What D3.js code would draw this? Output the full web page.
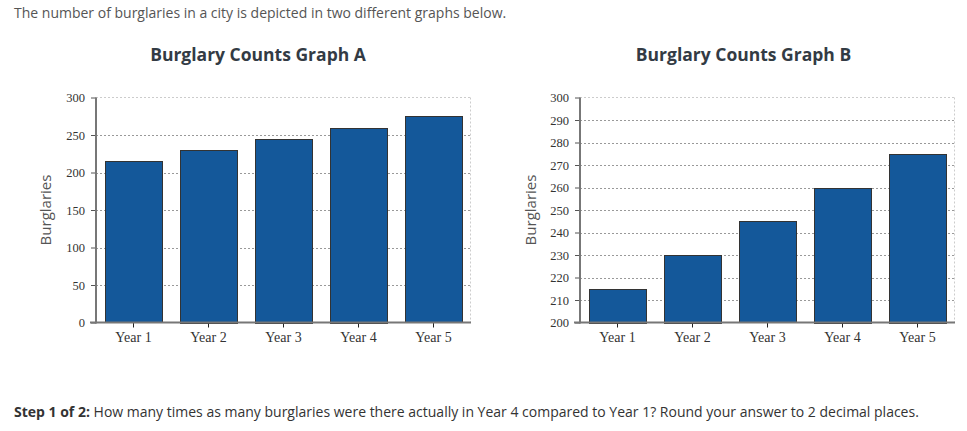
<!DOCTYPE html>
<html><head><meta charset="utf-8">
<script src="https://cdn.jsdelivr.net/npm/d3@7"></script>
<style>
body{margin:0;background:#fff;}
svg{display:block;}
</style></head>
<body>
<svg id="c" width="967" height="431"></svg>
<script>
const categories = ["Year 1","Year 2","Year 3","Year 4","Year 5"];
const burglaries = [215, 230, 245, 260, 275];
const ticksA = [0, 50, 100, 150, 200, 250, 300];
const ticksB = [200, 210, 220, 230, 240, 250, 260, 270, 280, 290, 300];
const titles = ["Burglary Counts Graph A", "Burglary Counts Graph B"];

const svg = d3.select("#c");
const serif = "'Liberation Serif','Times New Roman',serif";
const sans = "'Open Sans',sans-serif";

svg.append("text").attr("x",14).attr("y",18).attr("font-family",sans).attr("font-size",14)
  .attr("fill","#555").text("The number of burglaries in a city is depicted in two different graphs below.");

const foot = svg.append("text").attr("x",14).attr("y",417).attr("font-family",sans).attr("font-size",14).attr("fill","#333");
foot.append("tspan").attr("font-weight","bold").text("Step 1 of 2:");
foot.append("tspan").text(" How many times as many burglaries were there actually in Year 4 compared to Year 1? Round your answer to 2 decimal places.");

function drawChart(cfg){
  const {x0,x1,y0,y1,domain,ticks,title,titleX,labelX} = cfg;
  const g = svg.append("g");
  const x = d3.scaleBand().domain(categories).range([x0,x1]).paddingInner(0.24).paddingOuter(0.12);
  const y = d3.scaleLinear().domain(domain).range([y1,y0]);

  g.append("text").attr("x",titleX).attr("y",61).attr("text-anchor","middle")
    .attr("font-family",sans).attr("font-size",17.5).attr("font-weight","bold").attr("fill","#333b44").text(title);

  g.append("line").attr("x1",x0).attr("x2",x1).attr("y1",y0).attr("y2",y0)
    .attr("stroke","#ccc").attr("stroke-dasharray","2,2");
  g.append("line").attr("x1",x1-0.5).attr("x2",x1-0.5).attr("y1",y0).attr("y2",y1)
    .attr("stroke","#ccc").attr("stroke-dasharray","2,2");

  g.selectAll(".grid").data(ticks.slice(1,-1)).join("line")
    .attr("x1",x0).attr("x2",x1).attr("y1",d=>Math.round(y(d))+0.5).attr("y2",d=>Math.round(y(d))+0.5)
    .attr("stroke","#999").attr("stroke-dasharray","2,2");

  g.selectAll(".bar").data(burglaries).join("rect")
    .attr("x",(d,i)=>Math.round(x(categories[i]))+0.5)
    .attr("width",Math.round(x.bandwidth()))
    .attr("y",d=>Math.round(y(d))+0.5)
    .attr("height",d=>Math.round(y1-y(d)))
    .attr("fill","#14589a").attr("stroke","#333").attr("stroke-width",1);

  const ya = d3.axisLeft(y).tickValues(ticks).tickSize(5).tickPadding(6);
  const yg = g.append("g").attr("transform",`translate(${x0},0)`).call(ya);
  yg.select(".domain").remove();
  yg.selectAll(".tick line").attr("stroke","#555");
  yg.selectAll("text").attr("font-family",serif).attr("font-size",12.5).attr("fill","#333");
  g.append("line").attr("x1",x0).attr("x2",x0).attr("y1",y0).attr("y2",y1+1)
    .attr("stroke","#777").attr("stroke-width",2);

  const xa = d3.axisBottom(x).tickSize(5).tickPadding(5);
  const xg = g.append("g").attr("transform",`translate(0,${y1})`).call(xa);
  xg.select(".domain").remove();
  xg.selectAll(".tick line").attr("stroke","#222");
  xg.selectAll("text").attr("font-family",serif).attr("font-size",14).attr("fill","#333");
  g.append("line").attr("x1",x0-6).attr("x2",x1).attr("y1",y1).attr("y2",y1)
    .attr("stroke","#777").attr("stroke-width",2);

  g.append("text").attr("transform",`translate(${labelX},${(y0+y1)/2}) rotate(-90)`)
    .attr("text-anchor","middle").attr("font-family",sans).attr("font-size",15)
    .attr("fill","#555").text("Burglaries");
}

drawChart({x0:96,x1:471,y0:97.5,y1:322.5,domain:[0,300],ticks:ticksA,title:titles[0],titleX:258,labelX:51});
drawChart({x0:580,x1:955,y0:97.5,y1:322.5,domain:[200,300],ticks:ticksB,title:titles[1],titleX:743.5,labelX:536});
</script>
</body></html>
